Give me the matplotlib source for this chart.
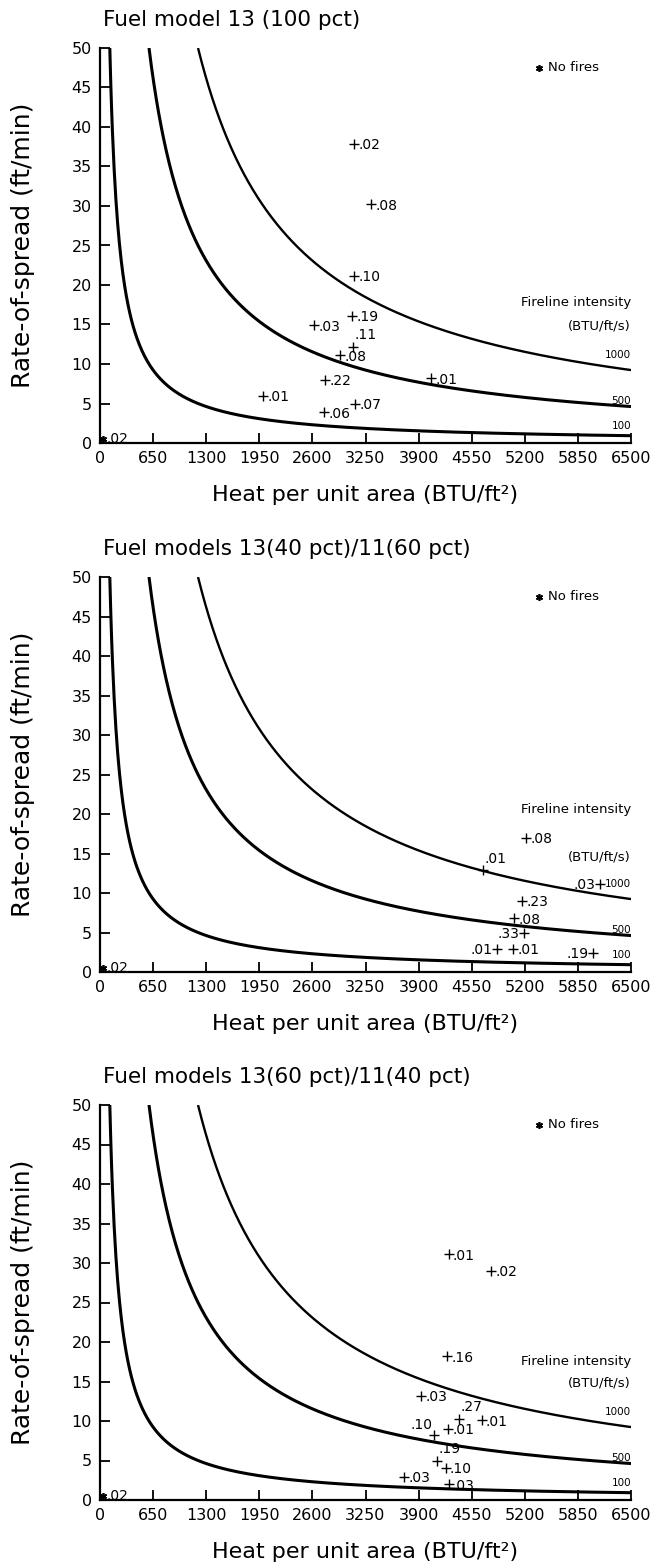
import numpy as np
import matplotlib
matplotlib.use('Agg')
import matplotlib.pyplot as plt

plt.rcParams['font.family'] = ['DejaVu Sans']

# Data
titles = ['Fuel model 13 (100 pct)',
          'Fuel models 13(40 pct)/11(60 pct)',
          'Fuel models 13(60 pct)/11(40 pct)']
intensities = [100, 500, 1000]          # fireline intensity, BTU/ft/s
x_ticks = np.arange(0, 6501, 650)
y_ticks = np.arange(0, 51, 5)

# fuel model 13 (100 pct)
heat_1 = [3110, 3320, 3110, 3090, 2620, 3100, 2940, 2760, 4050, 2000, 3120, 2740]
ros_1 = [37.9, 30.2, 21.2, 16.1, 14.9, 12.2, 11.1, 8.0, 8.2, 6.0, 5.0, 3.9]
labels_1 = ['.02', '.08', '.10', '.19', '.03', '.11', '.08', '.22', '.01', '.01', '.07', '.06']
side_1 = ['r', 'r', 'r', 'r', 'r', 'u', 'r', 'r', 'r', 'r', 'r', 'r']

# 13 (40 pct) / 11 (60 pct)
heat_2 = [5220, 4690, 6120, 5170, 5070, 5190, 4860, 5060, 6030]
ros_2 = [17.0, 12.9, 11.2, 9.0, 6.8, 5.0, 2.9, 2.9, 2.4]
labels_2 = ['.08', '.01', '.03', '.23', '.08', '.33', '.01', '.01', '.19']
side_2 = ['r', 'u', 'l', 'r', 'r', 'l', 'l', 'r', 'l']

# 13 (60 pct) / 11 (40 pct)
heat_3 = [4270, 4790, 4250, 3930, 4400, 4670, 4090, 4260, 4130, 4230, 3720, 4270]
ros_3 = [31.1, 29.0, 18.2, 13.2, 10.3, 10.1, 8.2, 9.0, 5.0, 4.1, 2.9, 2.0]
labels_3 = ['.01', '.02', '.16', '.03', '.27', '.01', '.10', '.01', '.19', '.10', '.03', '.03']
side_3 = ['r', 'r', 'r', 'r', 'u', 'r', 'ul', 'r', 'u', 'r', 'r', 'r']

# "no fires" point (same in all panels)
nofire_heat = 40
nofire_ros = 0.5
nofire_label = '.02'

panels = [(heat_1, ros_1, labels_1, side_1),
          (heat_2, ros_2, labels_2, side_2),
          (heat_3, ros_3, labels_3, side_3)]

# y of the "Fireline intensity" header lines per panel (data units)
header_y = [(17.8, 14.8), (20.6, 14.6), (17.5, 14.8)]

offsets = {'r': ((3, -1), 'left', 'center'),
           'l': ((-3, -1), 'right', 'center'),
           'u': ((1, 3), 'left', 'bottom'),
           'ul': ((-1, 2), 'right', 'bottom')}

fig = plt.figure(figsize=(6.55, 15.68), dpi=100)
bottoms = [1 - 443 / 1568, 1 - 972 / 1568, 1 - 1500 / 1568]

for i, (heat, ros, labels, side) in enumerate(panels):
    ax = fig.add_axes([100 / 655, bottoms[i], 531 / 655, 395 / 1568])

    # constant fireline intensity curves: R = 60 I / H
    for inten in intensities:
        h = np.linspace(60 * inten / 50, 6500, 600)
        r = 60 * inten / h
        lw = 1.7 if inten == 1000 else 2.2
        ax.plot(h, r, color='black', lw=lw, solid_capstyle='butt')
        ax.annotate(str(inten), (6500, 60 * inten / 6500),
                    xytext=(0, {100: 7, 500: 4, 1000: 11}[inten]),
                    textcoords='offset points', ha='right', va='center',
                    fontsize=7.5)

    ax.plot(heat, ros, linestyle='none', marker='+', ms=7.5, mew=1.0, color='black')
    for h, r, lab, s in zip(heat, ros, labels, side):
        off, ha, va = offsets[s]
        ax.annotate(lab, (h, r), xytext=off, textcoords='offset points',
                    ha=ha, va=va, fontsize=10)

    ax.plot(nofire_heat, nofire_ros, linestyle='none', marker=(6, 2, 0),
            ms=5, mew=1.2, color='black')
    ax.annotate(nofire_label, (nofire_heat, nofire_ros), xytext=(2, 0),
                textcoords='offset points', ha='left', va='center', fontsize=10)

    # legend-ish notes
    ax.plot([0.826], [0.95], transform=ax.transAxes, marker=(6, 2, 0),
            ms=5, mew=1.2, color='black', clip_on=False)
    ax.text(0.843, 0.95, 'No fires', transform=ax.transAxes, ha='left',
            va='center', fontsize=9.5)
    ax.text(6500, header_y[i][0], 'Fireline intensity', ha='right', va='center', fontsize=9.5)
    ax.text(6500, header_y[i][1], '(BTU/ft/s)', ha='right', va='center', fontsize=9.5)

    ax.set_xlim(0, 6500)
    ax.set_ylim(0, 50)
    ax.set_xticks(x_ticks)
    ax.set_yticks(y_ticks)
    ax.tick_params(direction='in', length=7, width=1.3, labelsize=11.5, pad=6)
    for sp in ['top', 'right']:
        ax.spines[sp].set_visible(False)
    for sp in ['left', 'bottom']:
        ax.spines[sp].set_linewidth(1.6)

    ax.set_xlabel('Heat per unit area (BTU/ft²)', fontsize=16)
    ax.xaxis.set_label_coords(0.5, -42 / 395)
    ax.set_ylabel('Rate-of-spread (ft/min)', fontsize=18)
    ax.yaxis.set_label_coords(-65 / 531, 0.5)
    ax.text(0.005, 1 + 28 / 395, titles[i], transform=ax.transAxes,
            ha='left', va='center', fontsize=15.5)

fig.savefig('out.png', dpi=100)
